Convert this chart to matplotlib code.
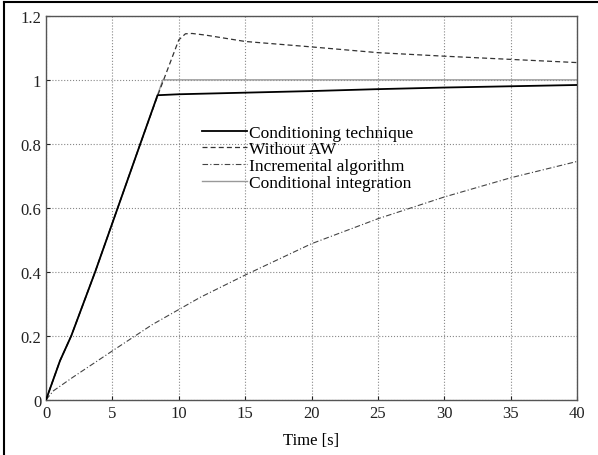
import numpy as np
import matplotlib.pyplot as plt
from matplotlib.lines import Line2D

# Curve data (time [s], output)
t_cond = [0, 1.05, 1.9, 3.7, 5.4, 7.1, 8.4, 10, 15, 20, 25, 30, 35, 40]
y_cond = [0, 0.122, 0.2, 0.4, 0.6, 0.8, 0.952, 0.955, 0.96, 0.965, 0.971, 0.976, 0.98, 0.984]

t_noaw = [0, 1.05, 1.9, 3.7, 5.4, 7.1, 8.4, 10.0, 10.5, 11, 12, 15, 20, 25, 30, 35, 40]
y_noaw = [0, 0.122, 0.2, 0.4, 0.6, 0.8, 0.95, 1.125, 1.144, 1.145, 1.14, 1.12, 1.103, 1.085, 1.074, 1.064, 1.054]

t_incr = [0, 0.55, 2, 5, 8, 11.6, 15, 20, 25, 30, 35, 40]
y_incr = [0, 0.028, 0.07, 0.153, 0.235, 0.32, 0.39, 0.488, 0.566, 0.634, 0.694, 0.745]

t_cint = [0, 1.05, 1.9, 3.7, 5.4, 7.1, 8.8, 40]
y_cint = [0, 0.122, 0.2, 0.4, 0.6, 0.8, 1.0, 1.0]

labels = ["Conditioning technique", "Without AW",
          "Incremental algorithm", "Conditional integration"]
x_ticks = [0, 5, 10, 15, 20, 25, 30, 35, 40]
y_ticks = [0, 0.2, 0.4, 0.6, 0.8, 1.0, 1.2]
y_tick_labels = ["0", "0.2", "0.4", "0.6", "0.8", "1", "1.2"]

plt.rcParams['font.family'] = ['Liberation Serif', 'DejaVu Serif']

fig = plt.figure(figsize=(5.98, 4.56), dpi=100)
ax = fig.add_axes([0.077, 0.121, 0.888, 0.842])

ax.plot(t_cint, y_cint, color='#999999', lw=1.0, label=labels[3], zorder=2)
ax.plot(t_incr, y_incr, color='#444444', lw=0.8, ls=(0, (5, 2, 1, 2)), label=labels[2], zorder=3)
ax.plot(t_noaw, y_noaw, color='#333333', lw=0.9, ls=(0, (4, 2.5)), label=labels[1], zorder=3)
ax.plot(t_cond, y_cond, color='black', lw=1.3, label=labels[0], zorder=4)

ax.set_xlim(0, 40)
ax.set_ylim(0, 1.2)
ax.set_xticks(x_ticks)
ax.set_yticks(y_ticks)
ax.set_yticklabels(y_tick_labels)
ax.tick_params(direction='in', length=3, labelsize=12, colors='#222222')
ax.grid(True, ls=':', color='#888888', lw=0.8)
for s in ax.spines.values():
    s.set_color('#555555')
    s.set_linewidth(1.0)
ax.set_xlabel("Time [s]", fontsize=12, labelpad=8)

handles, lbls = ax.get_legend_handles_labels()
order = [3, 2, 1, 0]
leg = ax.legend([handles[i] for i in order], [lbls[i] for i in order],
                loc='upper left', bbox_to_anchor=(0.28, 0.735), frameon=False,
                fontsize=12.5, handlelength=2.6, handletextpad=0.12, labelspacing=0.03,
                borderaxespad=0)

# outer scan frame
fig.add_artist(Line2D([0.007, 0.007], [0.0, 0.994], color='black', lw=1.5,
                      transform=fig.transFigure))
fig.add_artist(Line2D([0.007, 1.0], [0.994, 0.994], color='black', lw=1.5,
                      transform=fig.transFigure))

fig.savefig("out.png", dpi=100)
